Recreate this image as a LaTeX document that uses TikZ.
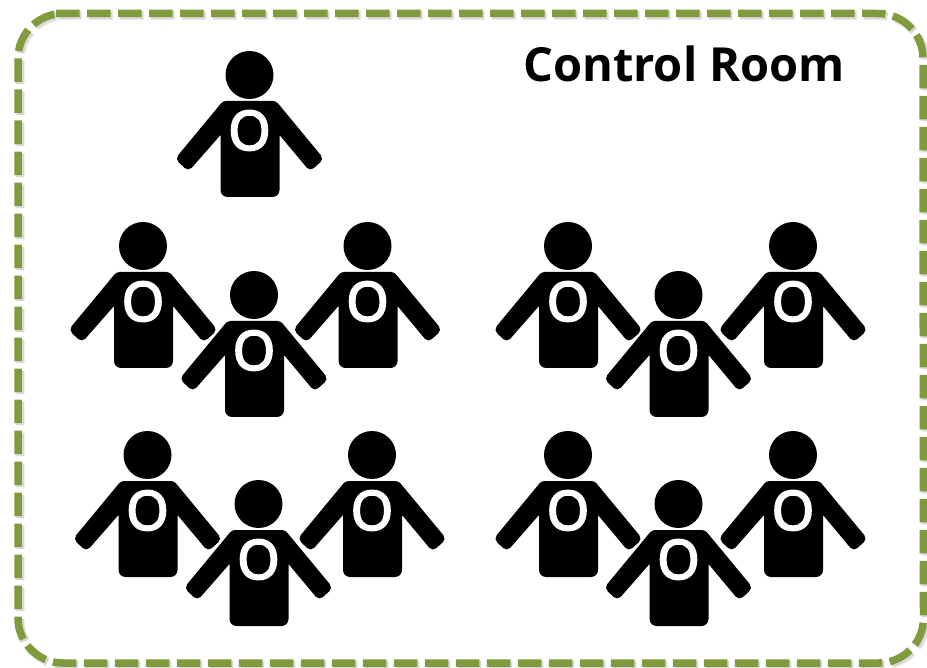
\documentclass[tikz,border=0pt]{standalone}
\usepackage{fontspec}
\setmainfont{Open Sans}
\newfontfamily\badgefont[FakeBold=4]{Open Sans}
\definecolor{frame}{HTML}{7F9B3D}
\tikzset{
  x=1pt,y=-1pt,
  framepath/.style={line width=7.5pt,dash pattern=on 23.5pt off 7.5pt},
  person/.pic={
    \fill[black] (0,0) circle[radius=24];
    \fill[black] (-26.5,26) [rounded corners=3pt] -- (26.5,26) [rounded corners=5pt] -- (74.5,84) -- (60.5,96.5) [sharp corners] -- (30,60) -- (30,60) [rounded corners=7pt] -- (30,122) -- (-29,122) [sharp corners] -- (-29,60) -- (-29,60) [rounded corners=5pt] -- (-61,96.5) -- (-74.5,84) [rounded corners=3pt] -- cycle;
    \node[text=white,font=\fontsize{54}{54}\selectfont\badgefont,inner sep=0pt] (-o) at (0,55.5) {O};
  }
}
\begin{document}
\begin{tikzpicture}
\useasboundingbox (0,0) rectangle (927,668);
\def\framepts{(56,13.5) -- (878,13.5) arc[start angle=-90,end angle=0,radius=45] -- (923.5,618) arc[start angle=0,end angle=90,radius=45] -- (63,663) arc[start angle=90,end angle=180,radius=45] -- (18,58.5) arc[start angle=180,end angle=270,radius=45] -- cycle}
\begin{scope}[shift={(2,2)}]
\draw[framepath,draw=black,opacity=.06,line width=10pt] \framepts;
\draw[framepath,draw=black,opacity=.1] \framepts;
\end{scope}
\draw[framepath,draw=frame] \framepts;
\pic (p0) at (249.5,75) {person};
\pic (p1) at (143,246) {person};
\pic (p2) at (254,295) {person};
\pic (p3) at (367.5,246) {person};
\pic (p4) at (568,246) {person};
\pic (p5) at (678.5,295) {person};
\pic (p6) at (793,246) {person};
\pic (p7) at (147.5,455) {person};
\pic (p8) at (258.5,504) {person};
\pic (p9) at (372,455) {person};
\pic (p10) at (568,455) {person};
\pic (p11) at (678.5,504) {person};
\pic (p12) at (793,455) {person};
\node[font=\fontsize{47}{47}\selectfont\bfseries,inner sep=0pt,anchor=base west] (title) at (523,81.5) {Control Room};
\end{tikzpicture}
\end{document}
